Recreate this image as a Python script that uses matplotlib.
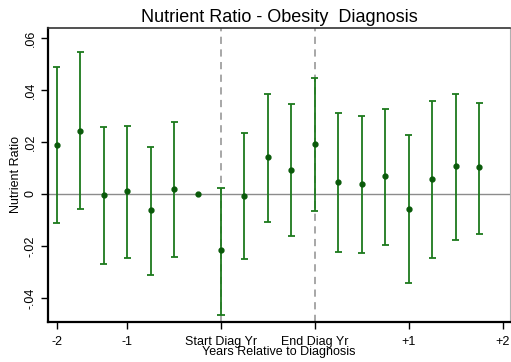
import numpy as np
from matplotlib import pyplot as plt

# estimates every third of a year, -2 .. +2 around diagnosis
xIdx = list(range(19))
est = [0.0190, 0.0244, -0.0003, 0.0010, -0.0062, 0.0020, 0.0001, -0.0217, -0.0008, 0.0144,
       0.0092, 0.0192, 0.0046, 0.0038, 0.0070, -0.0058, 0.0056, 0.0108, 0.0103]
upper = [0.0487, 0.0546, 0.0259, 0.0263, 0.0182, 0.0278, None, 0.0022, 0.0236, 0.0386,
         0.0345, 0.0447, 0.0313, 0.0300, 0.0328, 0.0227, 0.0356, 0.0386, 0.0350]
lower = [-0.0113, -0.0059, -0.0269, -0.0246, -0.0310, -0.0242, None, -0.0465, -0.0251, -0.0106,
         -0.0160, -0.0064, -0.0223, -0.0228, -0.0196, -0.0342, -0.0246, -0.0178, -0.0154]
tickPos = [0, 3, 7, 11, 15, 19]
tickLabels = ['-2', '-1', 'Start Diag Yr', 'End Diag Yr', '+1', '+2']
yTicks = [-0.04, -0.02, 0, 0.02, 0.04, 0.06]
yLabels = ['-.04', '-.02', '0', '.02', '.04', '.06']

plt.rcParams['font.family'] = ['Liberation Sans', 'DejaVu Sans']
green = '#1c7a1c'

fig = plt.figure(figsize=(5.11, 3.62), dpi=100)
ax = fig.add_axes([48/511, 1 - 322/362, (510-48)/511, (322-28)/362])

ax.axhline(0, color='#8c8c8c', lw=1, zorder=1)
for p in (7, 11):
    ax.axvline(p, color='#a0a0a0', lw=1.3, ls=(0, (4, 3)), zorder=1)

ci = [(x, lo, hi) for x, lo, hi in zip(xIdx, lower, upper) if lo is not None]
cx = np.array([c[0] for c in ci])
clo = np.array([c[1] for c in ci])
chi = np.array([c[2] for c in ci])
ax.vlines(cx, clo, chi, color=green, lw=1.3, zorder=2)
ax.hlines(clo, cx - 0.15, cx + 0.15, color=green, lw=1.3, zorder=2)
ax.hlines(chi, cx - 0.15, cx + 0.15, color=green, lw=1.3, zorder=2)
ax.plot(xIdx, est, 'o', color='#0a5a0a', ms=3.5, zorder=3)

ax.set_xlim(-0.37, 19.31)
ax.set_ylim(-0.0492, 0.0638)
ax.set_xticks(tickPos)
ax.set_xticklabels(tickLabels, fontsize=9)
ax.set_yticks(yTicks)
ax.set_yticklabels(yLabels, fontsize=9, rotation=90, va='center')
ax.tick_params(direction='out', length=5, width=1, color='black', pad=3)
ax.tick_params(axis='x', pad=5)

for s in ('left', 'bottom'):
    ax.spines[s].set_linewidth(1.6)
    ax.spines[s].set_color('black')
ax.spines['top'].set_color('#333333')
ax.spines['top'].set_linewidth(1.2)
ax.spines['right'].set_color('#b0b0b0')
ax.spines['right'].set_linewidth(0.8)

ax.set_xlabel('Years Relative to Diagnosis', fontsize=9, labelpad=-1)
ax.set_ylabel('Nutrient Ratio', fontsize=9, labelpad=2)
ax.set_title('Nutrient Ratio - Obesity  Diagnosis', fontsize=13, pad=4)

fig.savefig('out.png', dpi=100)
